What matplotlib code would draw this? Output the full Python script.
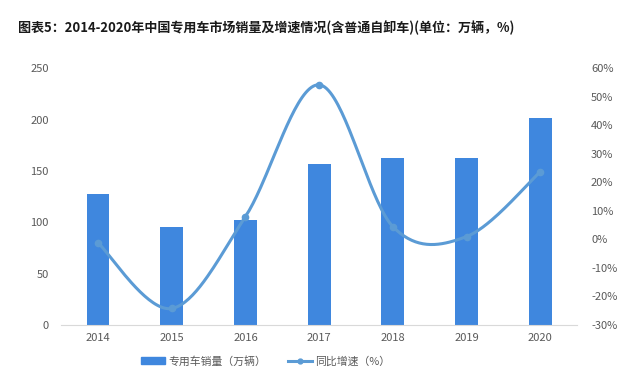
import numpy as np
import matplotlib
matplotlib.use("Agg")
import matplotlib.pyplot as plt
from matplotlib.ticker import FuncFormatter
from matplotlib.lines import Line2D
from matplotlib.patches import Patch

plt.rcParams['font.family'] = ['Noto Sans CJK SC', 'DejaVu Sans']

years = ['2014', '2015', '2016', '2017', '2018', '2019', '2020']
sales = [127.5, 95.5, 102, 156.5, 163, 163, 202]
growth = [-1.2, -24.2, 8.0, 54.2, 4.5, 1.0, 23.7]
bar_label = '专用车销量（万辆）'
line_label = '同比增速（%）'
title = '图表5：2014-2020年中国专用车市场销量及增速情况(含普通自卸车)(单位：万辆，%)'

bar_color = '#3F87DE'
line_color = '#5B9BD5'
tick_color = '#595959'

def catmull_rom(xs, ys, n=40):
    pts = np.column_stack([xs, ys]).astype(float)
    P = np.vstack([pts[0], pts, pts[-1]])
    out = []
    for i in range(1, len(P) - 2):
        p0, p1, p2, p3 = P[i - 1], P[i], P[i + 1], P[i + 2]
        t = np.linspace(0, 1, n)[:, None]
        c1 = p1 + (p2 - p0) / 6
        c2 = p2 - (p3 - p1) / 6
        seg = ((1 - t) ** 3) * p1 + 3 * ((1 - t) ** 2) * t * c1 + 3 * (1 - t) * t ** 2 * c2 + t ** 3 * p2
        out.append(seg if i == 1 else seg[1:])
    out = np.vstack(out)
    return out[:, 0], out[:, 1]

fig = plt.figure(figsize=(6.37, 3.89), dpi=100)
ax = fig.add_axes([0.096, 0.1645, 0.81, 0.66])
x = np.arange(len(years))
ax.bar(x, sales, width=0.31, color=bar_color, label=bar_label, zorder=2)
ax.set_xlim(-0.5, len(years) - 0.5)
ax.set_ylim(0, 250)
ax.set_yticks(np.arange(0, 251, 50))
ax.set_xticks(x)
ax.set_xticklabels(years)
for s in ['top', 'right', 'left']:
    ax.spines[s].set_visible(False)
ax.spines['bottom'].set_color('#D9D9D9')
ax.tick_params(axis='both', length=0, colors=tick_color, labelsize=8)
ax.tick_params(axis='y', pad=9)
ax.tick_params(axis='x', pad=6)

ax2 = ax.twinx()
sx, sy = catmull_rom(x, growth)
ax2.plot(sx, sy, color=line_color, lw=2.2, zorder=3)
ax2.plot(x, growth, 'o', color=line_color, ms=4.5, zorder=4)
ax2.set_ylim(-30, 60)
ax2.set_yticks(np.arange(-30, 61, 10))
ax2.yaxis.set_major_formatter(FuncFormatter(lambda v, p: f'{int(v)}%'))
for s in ['top', 'right', 'left', 'bottom']:
    ax2.spines[s].set_visible(False)
ax2.tick_params(axis='y', length=0, colors=tick_color, labelsize=8, pad=10)

handles = [Patch(color=bar_color), Line2D([0], [0], color=line_color, lw=2.2, marker='o', ms=3.5)]
fig.legend(handles, [bar_label, line_label], loc='center', bbox_to_anchor=(0.417, 0.072),
           ncol=2, frameon=False, fontsize=7.8, handlelength=2.2, handleheight=0.6,
           columnspacing=2.0, handletextpad=0.3, labelcolor=tick_color)

fig.text(0.028, 0.928, title, fontsize=9.4, fontweight='bold', color='#1a1a1a', va='center', ha='left')

fig.savefig('out.png', dpi=100)
